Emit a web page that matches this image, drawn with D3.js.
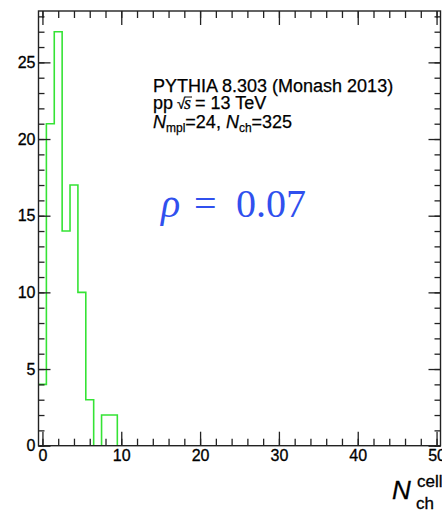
<!DOCTYPE html>
<html>
<head>
<meta charset="utf-8">
<script src="https://cdn.jsdelivr.net/npm/d3@7"></script>
<style>
  html, body { margin: 0; padding: 0; background: #fff; }
  svg { display: block; }
  .tick text { font-family: "Liberation Sans", Arial, Helvetica, sans-serif; font-size: 16px; fill: #000; stroke: #000; stroke-width: 0.3px; }
</style>
</head>
<body>
<div id="chart"></div>
<script>
// histogram of charged particles per cell (bins centred on integers)
const binCenters = [0, 1, 2, 3, 4, 5, 6, 7, 8, 9];
const binCounts  = [4, 21, 27, 14, 17, 10, 3, 0, 2, 2];

const xMajorTicks = [0, 10, 20, 30, 40, 50];
const xMinorTicks = d3.range(0, 51, 2);
const yMajorTicks = [0, 5, 10, 15, 20, 25];
const yMinorTicks = d3.range(0, 29, 1);

const infoLines = ["PYTHIA 8.303 (Monash 2013)"];
const rhoValue = "0.07";

// ---------------------------------------------------------
// SETUP
// ---------------------------------------------------------
const W = 442, H = 514;
const frame = { left: 38.5, right: 440.5, top: 11, bottom: 445.7 };

const svg = d3.select("#chart").append("svg")
    .attr("width", W)
    .attr("height", H);

const x = d3.scaleLinear().domain([-0.5, 50.5]).range([frame.left, frame.right]);
const y = d3.scaleLinear().domain([0, 28.35]).range([frame.bottom, frame.top]);

svg.append("clipPath").attr("id", "clip")
  .append("rect")
    .attr("x", frame.left).attr("y", frame.top)
    .attr("width", frame.right - frame.left)
    .attr("height", frame.bottom - frame.top);

// ---------------------------------------------------------
// HISTOGRAM (step outline)
// ---------------------------------------------------------
const steps = binCenters.map((c, i) => [c - 0.5, binCounts[i]]);
steps.push([binCenters[binCenters.length - 1] + 0.5, 0]);
steps.push([x.domain()[1], 0]);

const line = d3.line()
    .x(d => x(d[0]))
    .y(d => y(d[1]))
    .curve(d3.curveStepAfter);

svg.append("path")
    .datum(steps)
    .attr("clip-path", "url(#clip)")
    .attr("d", line)
    .attr("fill", "none")
    .attr("stroke", "#35e335")
    .attr("stroke-width", 1.6);

// ---------------------------------------------------------
// AXES (ticks inward, mirrored on top/right)
// ---------------------------------------------------------
function styleAxis(g) {
  g.select(".domain").remove();
  g.selectAll(".tick line").attr("stroke", "#222").attr("stroke-width", 1.3);
}

svg.append("g")
    .attr("transform", `translate(0,${frame.bottom})`)
    .call(d3.axisBottom(x).tickValues(xMinorTicks).tickSize(-7).tickFormat(""))
    .call(styleAxis);
svg.append("g")
    .attr("transform", `translate(0,${frame.bottom})`)
    .call(d3.axisBottom(x).tickValues(xMajorTicks).tickSize(-14).tickPadding(4).tickFormat(d3.format("d")))
    .call(styleAxis);
svg.append("g")
    .attr("transform", `translate(0,${frame.top})`)
    .call(d3.axisTop(x).tickValues(xMinorTicks).tickSize(-7).tickFormat(""))
    .call(styleAxis);
svg.append("g")
    .attr("transform", `translate(0,${frame.top})`)
    .call(d3.axisTop(x).tickValues(xMajorTicks).tickSize(-14).tickFormat(""))
    .call(styleAxis);

svg.append("g")
    .attr("transform", `translate(${frame.left},0)`)
    .call(d3.axisLeft(y).tickValues(yMinorTicks).tickSize(-6).tickFormat(""))
    .call(styleAxis);
svg.append("g")
    .attr("transform", `translate(${frame.left},0)`)
    .call(d3.axisLeft(y).tickValues(yMajorTicks).tickSize(-12).tickPadding(3).tickFormat(d3.format("d")))
    .call(styleAxis);
svg.append("g")
    .attr("transform", `translate(${frame.right},0)`)
    .call(d3.axisRight(y).tickValues(yMinorTicks).tickSize(-6).tickFormat(""))
    .call(styleAxis);
svg.append("g")
    .attr("transform", `translate(${frame.right},0)`)
    .call(d3.axisRight(y).tickValues(yMajorTicks).tickSize(-12).tickFormat(""))
    .call(styleAxis);

svg.append("rect")
    .attr("x", frame.left).attr("y", frame.top)
    .attr("width", frame.right - frame.left)
    .attr("height", frame.bottom - frame.top)
    .attr("fill", "none")
    .attr("stroke", "#222")
    .attr("stroke-width", 1.4);

// ---------------------------------------------------------
// LABELS
// ---------------------------------------------------------
const sans = "'Liberation Sans', Arial, Helvetica, sans-serif";

const info = svg.append("g")
    .style("font-family", sans)
    .style("font-size", "18px")
    .style("fill", "#000")
    .style("stroke", "#000")
    .style("stroke-width", "0.25px");

info.append("text").attr("x", 153).attr("y", 91.5).text(infoLines[0]);

const l2 = info.append("text").attr("x", 153).attr("y", 109);
l2.append("tspan").text("pp");
l2.append("tspan").attr("x", 177).style("font-size", "15px").text("\u221A");
l2.append("tspan").attr("x", 184).style("font-style", "italic").style("font-family", "'Liberation Serif', serif").text("s");
l2.append("tspan").attr("x", 195).text("= 13 TeV");
info.append("line")
    .attr("x1", 184.5).attr("x2", 192)
    .attr("y1", 97).attr("y2", 97)
    .attr("stroke", "#000").attr("stroke-width", 1);

const l3 = info.append("text").attr("x", 153).attr("y", 127.5);
l3.append("tspan").style("font-style", "italic").text("N");
l3.append("tspan").attr("dy", 4).style("font-size", "12px").text("mpl");
l3.append("tspan").attr("dy", -4).text("=24, ");
l3.append("tspan").style("font-style", "italic").text("N");
l3.append("tspan").attr("dy", 4).style("font-size", "12px").text("ch");
l3.append("tspan").attr("dy", -4).text("=325");

const rho = svg.append("text")
    .attr("x", 161)
    .attr("y", 217)
    .style("font-family", "'Liberation Serif', 'Times New Roman', serif")
    .style("font-size", "40px")
    .style("fill", "#3050ee");
rho.append("tspan").style("font-style", "italic").text("\u03C1");
rho.append("tspan").attr("x", 194).text("=");
rho.append("tspan").attr("x", 236).text(rhoValue);

// x-axis title N_ch^cell
const title = svg.append("g").style("font-family", sans).style("fill", "#000")
    .style("stroke", "#000").style("stroke-width", "0.3px");
title.append("text").attr("x", 392).attr("y", 499)
    .style("font-size", "26px").style("font-style", "italic").text("N");
title.append("text").attr("x", 417).attr("y", 487)
    .style("font-size", "17px").text("cell");
title.append("text").attr("x", 416).attr("y", 508.7)
    .style("font-size", "17px").text("ch");
</script>
</body>
</html>
